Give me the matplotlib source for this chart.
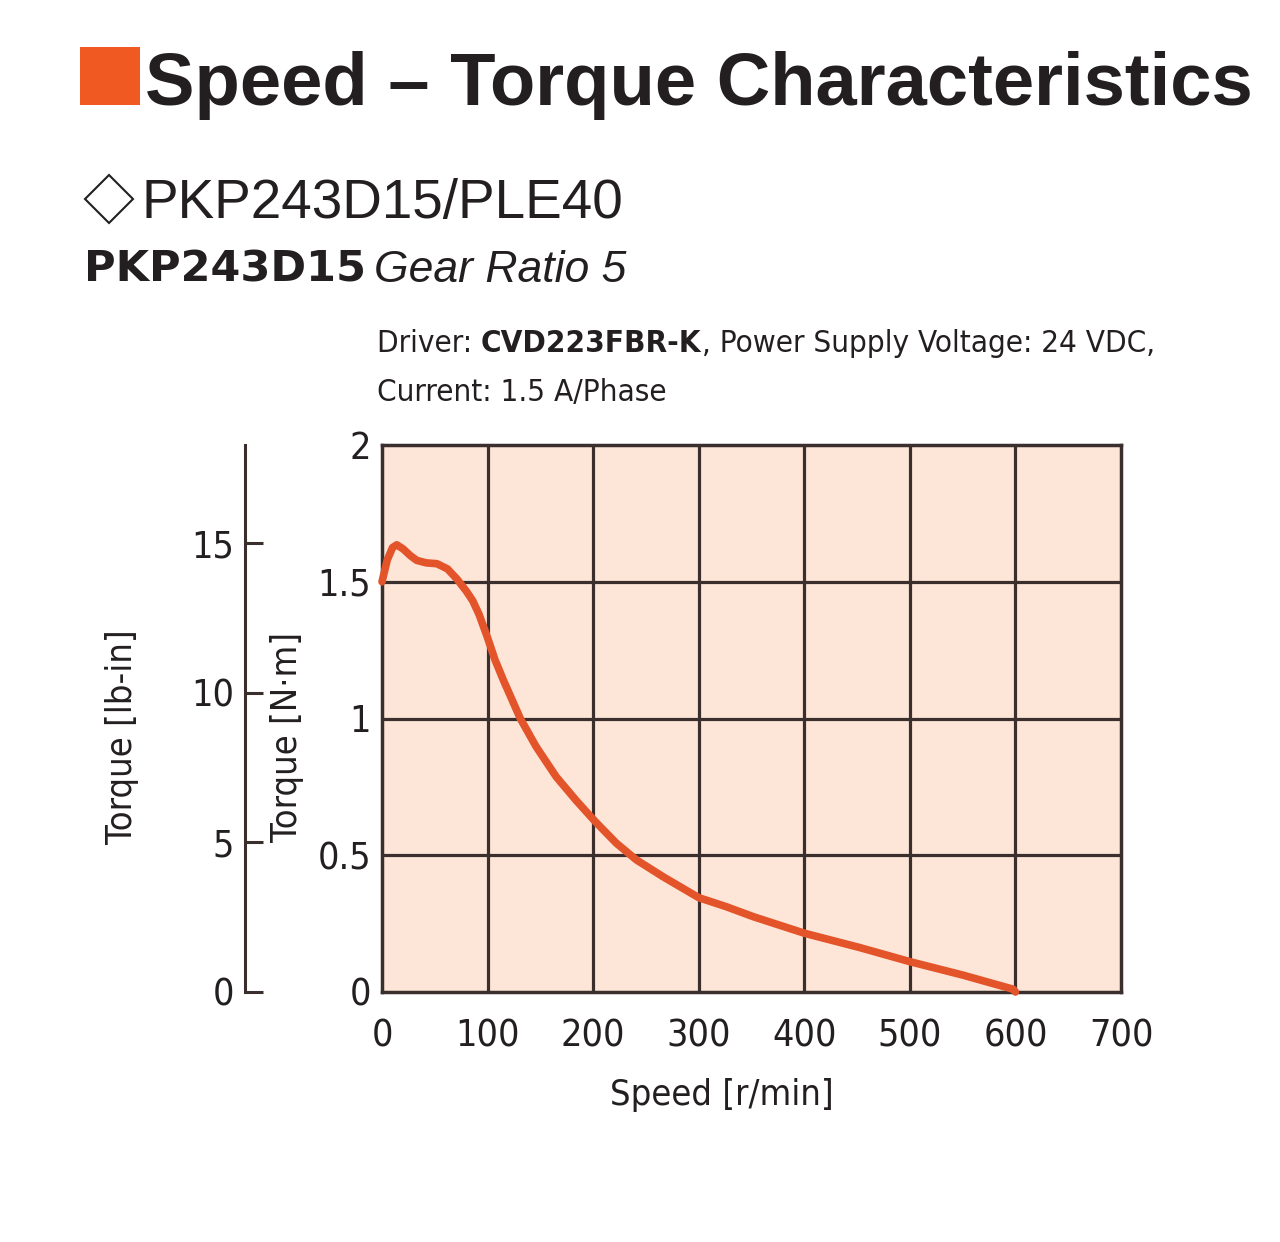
import numpy as np
import matplotlib.pyplot as plt
import matplotlib.patches as mpatches

# speed [r/min] vs torque [N·m]
speed = [0, 5, 10, 14, 20, 27, 33, 42, 52, 62, 71, 80, 86, 92, 100, 107, 115, 131, 146, 165, 184,
         202, 222, 241, 266, 300, 326, 352, 400, 452, 500, 550, 598, 600]
torque = [1.50, 1.58, 1.625, 1.635, 1.62, 1.595, 1.578, 1.569, 1.566, 1.547, 1.51, 1.465, 1.43,
          1.38, 1.295, 1.215, 1.14, 1.0, 0.897, 0.787, 0.70, 0.623, 0.544, 0.483, 0.422, 0.345,
          0.312, 0.275, 0.215, 0.163, 0.111, 0.062, 0.01, 0.0]

xticks = [0, 100, 200, 300, 400, 500, 600, 700]
yticks = [0, 0.5, 1, 1.5, 2]
yticklabels = ['0', '0.5', '1', '1.5', '2']
lbin_ticks = [0, 5, 10, 15]

W, H = 1280, 1242
curve_col = '#e4542a'
grid_col = '#3a2f2c'
bg_col = '#fde6d8'
txt_col = '#231f20'

cond = dict(family='DejaVu Sans', fontstretch='condensed')

fig = plt.figure(figsize=(W / 100, H / 100), dpi=100)

def fx(px):
    return px / W

def fy(py):
    return 1 - py / H

# header
fig.patches.append(mpatches.Rectangle((fx(80), fy(105)), fx(60), 58 / H, transform=fig.transFigure,
                                      facecolor='#f05a22', edgecolor='none'))
fig.text(fx(145), fy(105), 'Speed – Torque Characteristics', fontsize=53.5, fontweight='bold',
         family='Liberation Sans', color=txt_col, va='baseline')
fig.patches.append(mpatches.Polygon([(fx(85), fy(199)), (fx(109), fy(175)), (fx(133), fy(199)), (fx(109), fy(223))],
                                    closed=True, transform=fig.transFigure, facecolor='white',
                                    edgecolor=txt_col, lw=1.5))
fig.text(fx(141), fy(218), 'PKP243D15/PLE40', fontsize=39.5, family='Liberation Sans', color=txt_col,
         va='baseline')
fig.text(fx(84), fy(282), 'PKP243D15', fontsize=31, fontweight='bold', family='DejaVu Sans',
         color=txt_col, va='baseline')
fig.text(fx(374), fy(282), 'Gear Ratio 5', fontsize=32, style='italic', family='Liberation Sans',
         color=txt_col, va='baseline')

# driver note
t = fig.text(fx(377), fy(352), 'Driver: ', fontsize=22.5, color=txt_col, va='baseline', **cond)
fig.canvas.draw()
r = fig.canvas.get_renderer()
bb = t.get_window_extent(r)
t2 = fig.text(bb.x1 / W, fy(352), 'CVD223FBR-K', fontsize=22.5, fontweight='bold', color=txt_col,
              va='baseline', **cond)
bb2 = t2.get_window_extent(r)
fig.text(bb2.x1 / W, fy(352), ', Power Supply Voltage: 24 VDC,', fontsize=22.5, color=txt_col,
         va='baseline', **cond)
fig.text(fx(377), fy(401), 'Current: 1.5 A/Phase', fontsize=22.5, color=txt_col, va='baseline', **cond)

# main chart
x0, x1, ytop, ybot = 382, 1121, 445, 992
ax = fig.add_axes([fx(x0), fy(ybot), (x1 - x0) / W, (ybot - ytop) / H])
ax.set_facecolor(bg_col)
ax.set_xlim(0, 700)
ax.set_ylim(0, 2)
for v in xticks[1:-1]:
    ax.axvline(v, color=grid_col, lw=2.3, zorder=1)
for v in yticks[1:-1]:
    ax.axhline(v, color=grid_col, lw=2.3, zorder=1)
for s in ax.spines.values():
    s.set_color(grid_col)
    s.set_linewidth(2.5)
ax.plot(speed, torque, color=curve_col, lw=5.5, solid_capstyle='round', solid_joinstyle='round',
        zorder=3, clip_on=False)
ax.set_xticks(xticks)
ax.set_xticklabels([str(v) for v in xticks], fontsize=27, color=txt_col, **cond)
ax.set_yticks(yticks)
ax.set_yticklabels(yticklabels, fontsize=27, color=txt_col, **cond)
ax.tick_params(length=0)
ax.tick_params(axis='x', pad=19)
ax.tick_params(axis='y', pad=8)
fig.text(fx(722), fy(1095), 'Speed [r/min]', fontsize=26, color=txt_col, ha='center', va='center',
         **cond)

# lb-in axis
ax2 = fig.add_axes([fx(245), fy(ybot), 0.001, (ybot - ytop) / H])
ax2.set_ylim(0, (ybot - ytop) / 29.93)
ax2.set_xticks([])
for k in ['top', 'right', 'bottom']:
    ax2.spines[k].set_visible(False)
ax2.spines['left'].set_color(grid_col)
ax2.spines['left'].set_linewidth(2.2)
ax2.patch.set_visible(False)
ax2.set_yticks(lbin_ticks)
ax2.set_yticklabels([str(v) for v in lbin_ticks], fontsize=27, color=txt_col, **cond)
ax2.tick_params(axis='y', direction='in', length=13, width=2.2, color=grid_col, pad=8)

fig.text(fx(122), fy(737), 'Torque [lb-in]', rotation=90, fontsize=26, color=txt_col,
         ha='center', va='center', **cond)
fig.text(fx(287), fy(737), 'Torque [N·m]', rotation=90, fontsize=26, color=txt_col,
         ha='center', va='center', **cond)

fig.savefig('out.png', dpi=100)
